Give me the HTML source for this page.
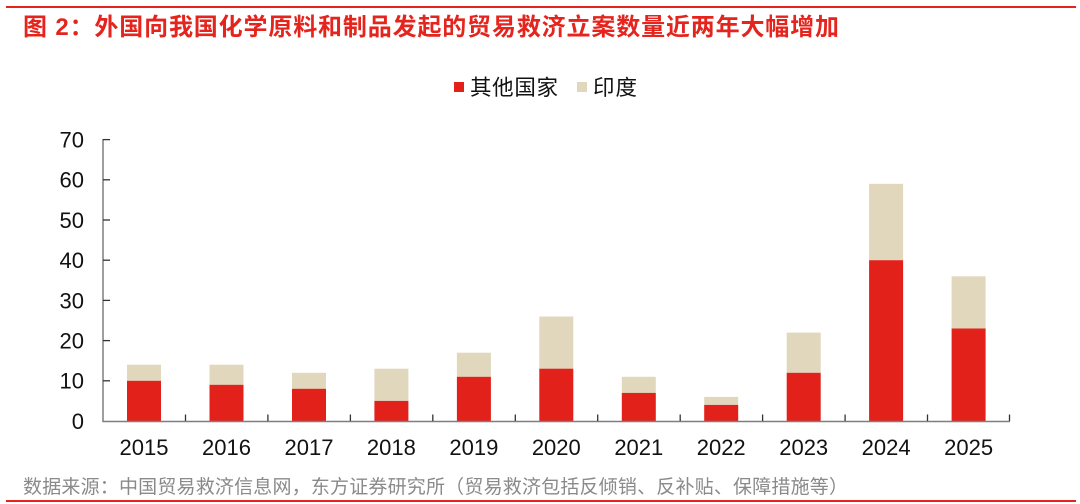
<!DOCTYPE html>
<html>
<head>
<meta charset="utf-8">
<style>
html,body{margin:0;padding:0;background:#fff;}
svg{display:block;}
text{font-family:"Liberation Sans","Noto Sans CJK SC",sans-serif;}
</style>
</head>
<body>
<svg width="1080" height="504" viewBox="0 0 1080 504" xmlns="http://www.w3.org/2000/svg">
  <rect x="0" y="0" width="1080" height="504" fill="#fff"/>
  <!-- top rule -->
  <rect x="6" y="6" width="1070" height="2" fill="#e5241d"/>
  <!-- title -->
  <text x="23" y="35" font-size="24" font-weight="bold" fill="#e5241d" textLength="816" lengthAdjust="spacing">图 2：外国向我国化学原料和制品发起的贸易救济立案数量近两年大幅增加</text>

  <!-- legend -->
  <rect x="454" y="82" width="10" height="10" fill="#e2211b"/>
  <text x="470" y="95" font-size="21.5" fill="#111" textLength="88" lengthAdjust="spacing">其他国家</text>
  <rect x="577" y="82" width="10" height="10" fill="#e0d7bd"/>
  <text x="593" y="95" font-size="21.5" fill="#111" textLength="44" lengthAdjust="spacing">印度</text>

  <!-- y labels -->
  <g font-size="22" fill="#111" text-anchor="end">
    <text x="84" y="147.5">70</text>
    <text x="84" y="187.7">60</text>
    <text x="84" y="227.9">50</text>
    <text x="84" y="268.1">40</text>
    <text x="84" y="308.3">30</text>
    <text x="84" y="348.5">20</text>
    <text x="84" y="388.7">10</text>
    <text x="84" y="428.9">0</text>
  </g>

  <!-- bars -->
  <g>
    <rect x="127" y="364.7" width="34" height="16.1" fill="#e0d7bd"/>
    <rect x="127" y="380.8" width="34" height="40.2" fill="#e2211b"/>
    <rect x="209.5" y="364.7" width="34" height="20.1" fill="#e0d7bd"/>
    <rect x="209.5" y="384.8" width="34" height="36.2" fill="#e2211b"/>
    <rect x="292" y="372.8" width="34" height="16.1" fill="#e0d7bd"/>
    <rect x="292" y="388.8" width="34" height="32.2" fill="#e2211b"/>
    <rect x="374.4" y="368.7" width="34" height="32.2" fill="#e0d7bd"/>
    <rect x="374.4" y="400.9" width="34" height="20.1" fill="#e2211b"/>
    <rect x="456.9" y="352.7" width="34" height="24.1" fill="#e0d7bd"/>
    <rect x="456.9" y="376.8" width="34" height="44.2" fill="#e2211b"/>
    <rect x="539.3" y="316.5" width="34" height="52.3" fill="#e0d7bd"/>
    <rect x="539.3" y="368.7" width="34" height="52.3" fill="#e2211b"/>
    <rect x="621.8" y="376.8" width="34" height="16.1" fill="#e0d7bd"/>
    <rect x="621.8" y="392.9" width="34" height="28.1" fill="#e2211b"/>
    <rect x="704.2" y="396.9" width="34" height="8.0" fill="#e0d7bd"/>
    <rect x="704.2" y="404.9" width="34" height="16.1" fill="#e2211b"/>
    <rect x="786.7" y="332.6" width="34" height="40.2" fill="#e0d7bd"/>
    <rect x="786.7" y="372.8" width="34" height="48.2" fill="#e2211b"/>
    <rect x="869.1" y="183.8" width="34" height="76.4" fill="#e0d7bd"/>
    <rect x="869.1" y="260.2" width="34" height="160.8" fill="#e2211b"/>
    <rect x="951.6" y="276.3" width="34" height="52.3" fill="#e0d7bd"/>
    <rect x="951.6" y="328.5" width="34" height="92.5" fill="#e2211b"/>
  </g>

  <!-- axes -->
  <g stroke="#7f7f7f" stroke-width="1.5" fill="none">
    <line x1="103" y1="139" x2="103" y2="421.5"/>
    <line x1="102.3" y1="421.5" x2="1010" y2="421.5"/>
  </g>
  <g stroke="#333" stroke-width="1.3">
    <line x1="103" y1="139.6" x2="110" y2="139.6"/>
    <line x1="103" y1="179.8" x2="110" y2="179.8"/>
    <line x1="103" y1="220" x2="110" y2="220"/>
    <line x1="103" y1="260.2" x2="110" y2="260.2"/>
    <line x1="103" y1="300.4" x2="110" y2="300.4"/>
    <line x1="103" y1="340.6" x2="110" y2="340.6"/>
    <line x1="103" y1="380.8" x2="110" y2="380.8"/>
    <line x1="185.5" y1="414.5" x2="185.5" y2="421"/>
    <line x1="267.9" y1="414.5" x2="267.9" y2="421"/>
    <line x1="350.4" y1="414.5" x2="350.4" y2="421"/>
    <line x1="432.8" y1="414.5" x2="432.8" y2="421"/>
    <line x1="515.3" y1="414.5" x2="515.3" y2="421"/>
    <line x1="597.7" y1="414.5" x2="597.7" y2="421"/>
    <line x1="680.2" y1="414.5" x2="680.2" y2="421"/>
    <line x1="762.6" y1="414.5" x2="762.6" y2="421"/>
    <line x1="845.1" y1="414.5" x2="845.1" y2="421"/>
    <line x1="927.5" y1="414.5" x2="927.5" y2="421"/>
    <line x1="1009.5" y1="414.5" x2="1009.5" y2="421"/>
  </g>

  <!-- x labels -->
  <g font-size="22" fill="#111" text-anchor="middle">
    <text x="144" y="455">2015</text>
    <text x="226.5" y="455">2016</text>
    <text x="309" y="455">2017</text>
    <text x="391.4" y="455">2018</text>
    <text x="473.9" y="455">2019</text>
    <text x="556.3" y="455">2020</text>
    <text x="638.8" y="455">2021</text>
    <text x="721.2" y="455">2022</text>
    <text x="803.7" y="455">2023</text>
    <text x="886.1" y="455">2024</text>
    <text x="968.6" y="455">2025</text>
  </g>

  <!-- footer -->
  <text x="23" y="493" font-size="19" fill="#8a8a8a" textLength="825" lengthAdjust="spacing">数据来源：中国贸易救济信息网，东方证券研究所（贸易救济包括反倾销、反补贴、保障措施等）</text>
  <rect x="6" y="500" width="1070" height="2" fill="#e5241d"/>
</svg>
</body>
</html>
